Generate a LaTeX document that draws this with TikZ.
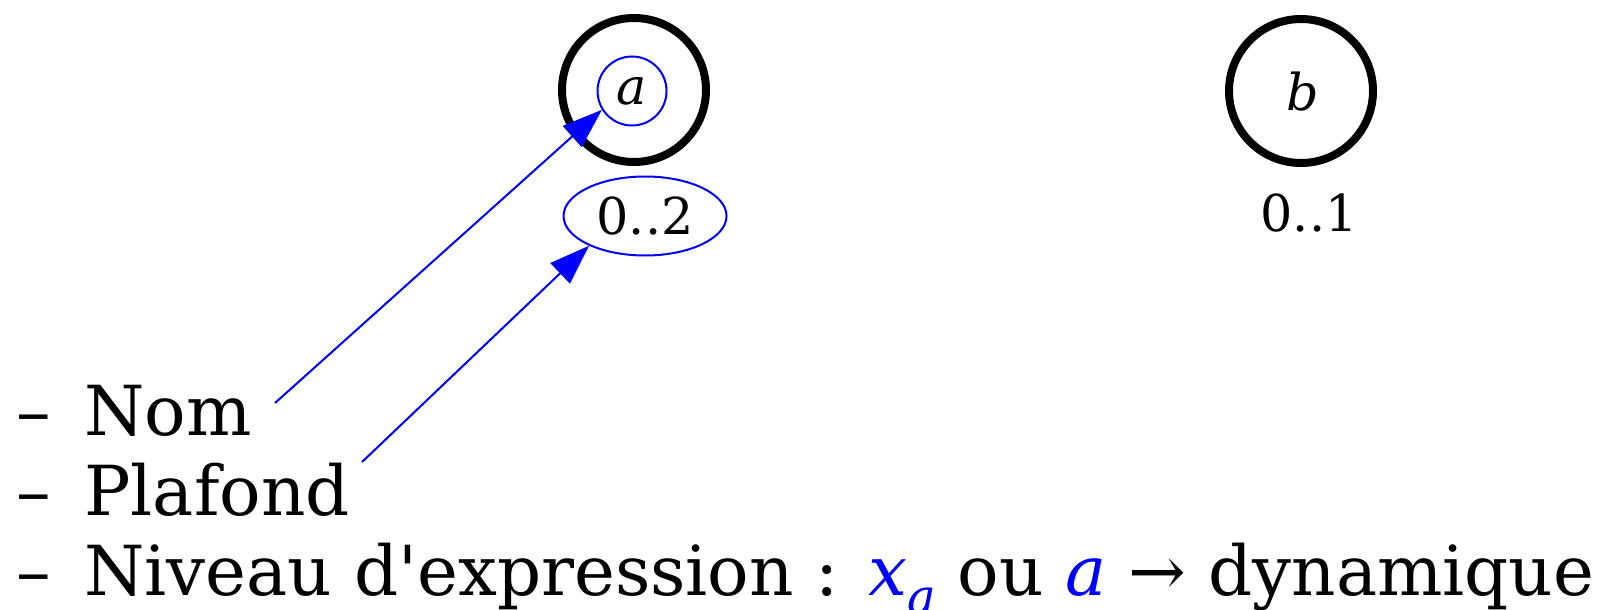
\documentclass[tikz,border=0pt]{standalone}
\usepackage{fontspec}
\setmainfont{DejaVu Serif}
\usepackage{xcolor}
\usepackage{tikz}
\usetikzlibrary{arrows.meta, shapes.geometric, positioning, calc}
\definecolor{markblue}{HTML}{0000FF}

\begin{document}
\begin{tikzpicture}[
  x=0.5pt, y=-0.5pt,
  place/.style={circle, draw=black, line width=4pt, minimum size=72pt, inner sep=0pt},
  label/.style={inner sep=0pt, font=\fontsize{25.4pt}{30pt}\selectfont},
  namebox/.style={label, circle, draw=markblue, line width=1pt, minimum size=34.5pt, font=\fontsize{25.4pt}{30pt}\selectfont\itshape},
  boundbox/.style={label, ellipse, draw=markblue, line width=1pt, minimum width=81.5pt, minimum height=39.5pt},
  item/.style={anchor=base west, inner sep=0pt, font=\fontsize{34.5pt}{40pt}\selectfont},
  arr/.style={-{Triangle[length=20pt, width=14pt]}, line width=1pt, color=markblue}
]
  \useasboundingbox (0,0) rectangle (1601,610);

  % places
  \node[place] (pa) at (634,90) {};
  \node[namebox] (na) at (632,91) {a};
  \node[boundbox] (ra) at (645,216) {0..2};

  \node[place] (pb) at (1301,91) {};
  \node[label, font=\fontsize{25.4pt}{30pt}\selectfont\itshape] (nb) at (1303,92) {b};
  \node[label] (rb) at (1309,213) {0..1};

  % legend
  \node[item] (nom)     at (16,435) {\makebox[34pt][l]{–}Nom};
  \node[item] (plafond) at (16,515) {\makebox[34pt][l]{–}Plafond};
  \node[item] (niveau)  at (16,595) {\makebox[34pt][l]{–}Niveau d\textquotesingle expression :
    {\color{markblue}\textit{x}\raisebox{-9pt}{\fontsize{24pt}{24pt}\selectfont\itshape a}} ou
    {\color{markblue}\textit{a}} → dynamique};

  \coordinate (nomtail)  at (275,403);
  \coordinate (plaftail) at (362,462);

  \draw[arr] (nomtail)  -- (na.212);
  \draw[arr] (plaftail) -- (ra.208);
\end{tikzpicture}
\end{document}
